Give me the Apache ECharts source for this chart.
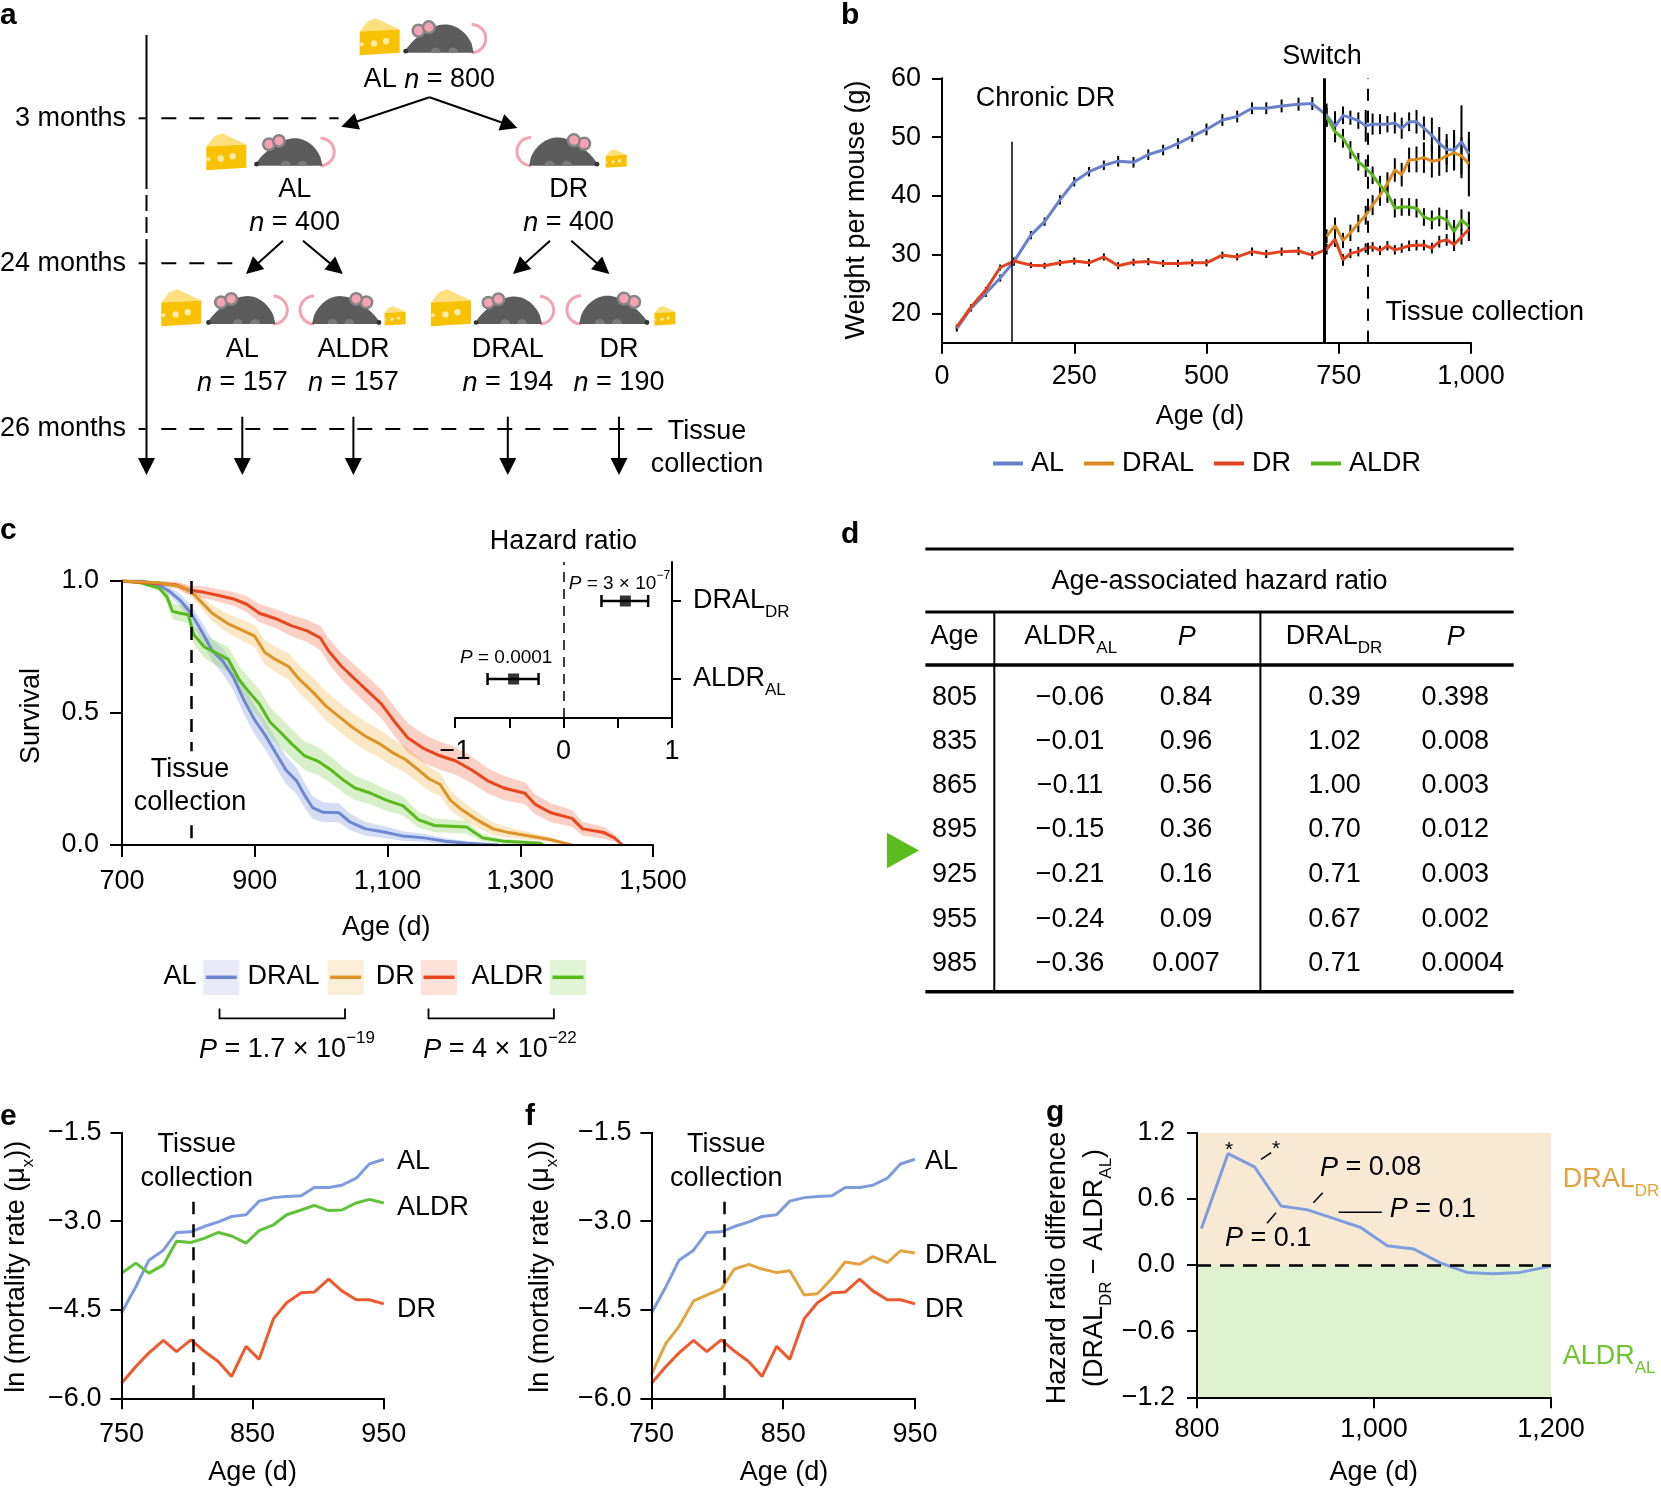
<!DOCTYPE html>
<html>
<head>
<meta charset="utf-8">
<script src="https://cdn.jsdelivr.net/npm/echarts@6/dist/echarts.min.js"></script>
<style>
html, body { margin: 0; padding: 0; background: #fff; }
#chart { width: 1661px; height: 1488px; }
</style>
</head>
<body>
<div id="chart"></div>
<script>
var FONT = '"Liberation Sans", Arial, Helvetica, sans-serif';

// b: body weight per mouse (g)
var weightAgesPre = [28, 55, 83, 110, 136, 168, 194, 223, 250, 278, 306, 333, 362, 390, 418, 446, 473, 500, 530, 558, 586, 613, 642, 674, 700];
var weightAgesPost = [727, 743, 758, 772, 787, 801, 814, 828, 842, 856, 869, 883, 897, 911, 926, 940, 954, 968, 982, 996];
var weightAL = [17.4, 20.9, 23.4, 26.0, 28.8, 33.3, 35.6, 39.3, 42.4, 44.1, 45.2, 45.9, 45.7, 47.0, 47.8, 48.9, 50.1, 51.3, 52.9, 53.5, 54.9, 54.9, 55.3, 55.6, 55.7,
  53.7, 51.8, 53.7, 53.3, 52.8, 51.9, 52.2, 52.2, 52.2, 52.4, 51.5, 52.6, 52.6, 51.5, 50.3, 48.9, 47.9, 47.8, 49.2, 47.1];
var weightDR = [17.7, 21.1, 24.0, 27.8, 28.9, 28.2, 28.1, 28.6, 28.9, 28.6, 29.6, 28.1, 28.7, 28.8, 28.5, 28.5, 28.6, 28.6, 29.9, 29.6, 30.5, 30.1, 30.5, 30.6, 29.9,
  30.9, 32.6, 29.1, 30.2, 30.5, 31.1, 31.3, 30.7, 31.5, 30.8, 31.1, 31.5, 31.6, 31.6, 31.1, 32.2, 32.5, 31.7, 33.0, 34.3];
var weightDRAL = [33.1, 34.9, 32.4, 33.7, 35.3, 36.7, 38.4, 40.1, 42.1, 44.4, 43.6, 46.1, 46.2, 46.5, 45.9, 46.1, 46.8, 47.3, 46.8, 45.4];
var weightALDR = [53.4, 50.9, 49.8, 47.8, 45.8, 44.7, 43.5, 41.8, 40.4, 37.9, 38.1, 38.1, 37.9, 36.4, 35.9, 36.4, 35.9, 33.9, 35.9, 34.8];
var errAL = [0.5, 0.6, 0.6, 0.6, 0.7, 0.7, 0.7, 0.8, 0.8, 0.8, 0.8, 0.9, 0.9, 0.9, 0.9, 0.9, 0.9, 1.0, 1.0, 1.0, 1.0, 1.0, 1.1, 1.1, 1.1,
  2.0, 2.6, 1.5, 1.2, 1.4, 2.7, 1.8, 1.7, 1.4, 1.8, 1.8, 1.6, 2.0, 2.0, 3.0, 2.8, 2.6, 3.4, 6.2, 2.5];
var errDR = [0.4, 0.4, 0.5, 0.5, 0.5, 0.5, 0.5, 0.5, 0.6, 0.6, 0.6, 0.6, 0.6, 0.6, 0.6, 0.6, 0.6, 0.6, 0.6, 0.6, 0.7, 0.7, 0.7, 0.7, 0.7,
  0.9, 1.3, 1.0, 0.8, 0.8, 0.8, 0.8, 0.8, 0.8, 0.8, 0.8, 0.9, 0.9, 0.9, 0.9, 1.0, 1.0, 1.1, 1.3, 1.6];
var errDRAL = [1.2, 1.4, 1.3, 1.4, 1.5, 1.6, 1.7, 1.8, 1.9, 2.0, 2.0, 2.1, 2.2, 2.6, 2.8, 2.7, 2.8, 3.0, 3.2, 5.5];
var errALDR = [1.6, 1.8, 1.6, 1.5, 1.5, 1.5, 1.5, 1.6, 1.6, 1.6, 1.5, 1.5, 1.6, 1.5, 1.6, 1.6, 1.7, 2.0, 1.8, 2.5];
var weightTicks = [20, 30, 40, 50, 60];
var chronicDay = 131, switchDay = 722, tissueDay = 805;

// c: survival
var survAgesAL = [700, 732, 756, 772, 788, 804, 820, 836, 852, 868, 884, 900, 915, 931, 947, 963, 975, 987, 1003, 1027, 1043, 1067, 1099, 1123, 1155, 1187, 1219, 1267];
var survAL = [1.0, 1.0, 0.984, 0.96, 0.926, 0.878, 0.81, 0.736, 0.696, 0.635, 0.547, 0.473, 0.419, 0.351, 0.284, 0.243, 0.189, 0.142, 0.124, 0.122, 0.088, 0.061, 0.047, 0.034, 0.027, 0.014, 0.007, 0.0];
var ciAL = [0, 0.006, 0.012, 0.018, 0.024, 0.03, 0.036, 0.042, 0.048, 0.05, 0.054, 0.054, 0.054, 0.054, 0.053, 0.05, 0.048, 0.043, 0.038, 0.036, 0.031, 0.026, 0.022, 0.018, 0.016, 0.012, 0.008, 0.0];
var survAgesALDR = [700, 728, 756, 768, 776, 788, 800, 808, 824, 840, 860, 876, 891, 907, 923, 939, 955, 975, 995, 1015, 1035, 1051, 1075, 1099, 1123, 1147, 1171, 1219, 1243, 1275, 1330, 1335];
var survALDR = [1.0, 0.993, 0.973, 0.939, 0.885, 0.878, 0.872, 0.797, 0.75, 0.73, 0.703, 0.628, 0.581, 0.534, 0.466, 0.426, 0.385, 0.338, 0.318, 0.284, 0.243, 0.216, 0.196, 0.169, 0.149, 0.095, 0.074, 0.068, 0.027, 0.014, 0.007, 0.0];
var ciALDR = [0, 0.006, 0.012, 0.024, 0.03, 0.03, 0.032, 0.036, 0.042, 0.046, 0.048, 0.052, 0.054, 0.055, 0.056, 0.056, 0.055, 0.054, 0.053, 0.05, 0.048, 0.046, 0.043, 0.04, 0.036, 0.03, 0.026, 0.024, 0.014, 0.01, 0.006, 0.0];
var survAgesDRAL = [700, 756, 788, 804, 820, 836, 860, 884, 900, 915, 931, 951, 967, 987, 1007, 1027, 1047, 1067, 1087, 1107, 1127, 1147, 1163, 1179, 1195, 1211, 1235, 1259, 1283, 1314, 1346, 1378];
var survDRAL = [1.0, 0.993, 0.98, 0.96, 0.919, 0.878, 0.838, 0.81, 0.791, 0.73, 0.703, 0.676, 0.628, 0.581, 0.527, 0.486, 0.446, 0.412, 0.385, 0.351, 0.324, 0.284, 0.25, 0.23, 0.169, 0.135, 0.095, 0.061, 0.047, 0.034, 0.02, 0.0];
var ciDRAL = [0, 0.006, 0.012, 0.018, 0.024, 0.03, 0.036, 0.04, 0.042, 0.046, 0.048, 0.05, 0.053, 0.054, 0.055, 0.055, 0.055, 0.054, 0.053, 0.052, 0.05, 0.048, 0.046, 0.043, 0.038, 0.034, 0.029, 0.024, 0.019, 0.014, 0.01, 0.0];
var survAgesDR = [700, 780, 800, 824, 844, 868, 888, 907, 931, 955, 979, 999, 1011, 1031, 1051, 1071, 1091, 1111, 1131, 1155, 1179, 1203, 1227, 1251, 1275, 1307, 1322, 1346, 1378, 1394, 1426, 1442, 1454];
var survDR = [1.0, 0.986, 0.966, 0.957, 0.946, 0.932, 0.912, 0.878, 0.858, 0.831, 0.811, 0.784, 0.736, 0.676, 0.628, 0.581, 0.534, 0.466, 0.405, 0.365, 0.338, 0.318, 0.284, 0.243, 0.216, 0.196, 0.155, 0.122, 0.101, 0.061, 0.047, 0.027, 0.0];
var ciDR = [0, 0.012, 0.018, 0.022, 0.024, 0.026, 0.03, 0.034, 0.036, 0.04, 0.042, 0.046, 0.048, 0.05, 0.053, 0.054, 0.055, 0.055, 0.055, 0.054, 0.053, 0.052, 0.05, 0.048, 0.046, 0.042, 0.038, 0.036, 0.032, 0.026, 0.022, 0.014, 0.0];

// c inset: hazard ratio
var hrGroups = ['ALDR_AL', 'DRAL_DR'];
var hrEstimate = [-0.46, 0.57];
var hrLower = [-0.70, 0.35];
var hrUpper = [-0.23, 0.78];

// d: age-associated hazard ratio table
var tableAges = ['805', '835', '865', '895', '925', '955', '985'];
var tableALDR = ['\u22120.06', '\u22120.01', '\u22120.11', '\u22120.15', '\u22120.21', '\u22120.24', '\u22120.36'];
var tablePAL = ['0.84', '0.96', '0.56', '0.36', '0.16', '0.09', '0.007'];
var tableDRAL = ['0.39', '1.02', '1.00', '0.70', '0.71', '0.67', '0.71'];
var tablePDR = ['0.398', '0.008', '0.003', '0.012', '0.003', '0.002', '0.0004'];

// e, f: ln mortality rate
var mortAges = [750, 761, 771, 782, 792, 803, 813, 824, 834, 845, 855, 866, 876, 887, 897, 908, 918, 929, 939, 950];
var mortAL = [-4.56, -4.11, -3.66, -3.49, -3.19, -3.18, -3.09, -3.01, -2.92, -2.89, -2.66, -2.60, -2.58, -2.57, -2.43, -2.43, -2.39, -2.27, -2.03, -1.95];
var mortALDR = [-3.88, -3.71, -3.88, -3.74, -3.34, -3.36, -3.29, -3.19, -3.25, -3.37, -3.16, -3.06, -2.89, -2.81, -2.73, -2.82, -2.81, -2.69, -2.63, -2.69];
var mortDR = [-5.75, -5.46, -5.23, -5.02, -5.21, -5.01, -5.20, -5.38, -5.63, -5.12, -5.34, -4.65, -4.38, -4.21, -4.20, -3.98, -4.18, -4.33, -4.33, -4.40];
var mortDRAL = [-5.60, -5.07, -4.78, -4.35, -4.25, -4.15, -3.81, -3.73, -3.81, -3.87, -3.84, -4.25, -4.23, -3.97, -3.69, -3.73, -3.60, -3.70, -3.50, -3.54];
var mortTicksX = [750, 850, 950];

// g: hazard ratio difference
var hrdAges = [805, 835, 865, 895, 925, 955, 985, 1015, 1045, 1075, 1105, 1135, 1165, 1200];
var hrdValues = [0.33, 1.01, 0.89, 0.535, 0.50, 0.42, 0.34, 0.175, 0.145, 0.02, -0.067, -0.08, -0.067, -0.01];

var colB = { al: '#6a80cc', dral: '#d98b22', dr: '#e2421d', aldr: '#5bb51c' };
var colC = { al: '#6f86d1', dral: '#dc9428', dr: '#e8461f', aldr: '#58ba1c' };
var colL = { al: '#7f9bdc', dral: '#e3a440', dr: '#ec5a2e', aldr: '#60c337' };
var colBand = { al: '#8aa2e2', dral: '#f2bd62', dr: '#f5805f', aldr: '#92d56a' };

function fmt(v, dec) {
  var s = Math.abs(v).toFixed(dec).replace(/\B(?=(\d{3})+(?!\d))/g, ',');
  return (v < 0 ? '\u2212' : '') + s;
}
function pairs(xs, ys) { return xs.map(function (x, i) { return [x, ys[i]]; }); }
function bars(xs, ys, es) { return xs.map(function (x, i) { return [x, ys[i] - es[i], ys[i] + es[i]]; }); }

// rich text styles: s = subscript, p = superscript
function richSub(size, color) {
  var ss = Math.round(size * 0.64), L = 2 * (0.37 * size + 0.6 * ss);
  return {
    r: { fontSize: size, fontFamily: FONT, fill: color, color: color, lineHeight: L, verticalAlign: 'middle' },
    i: { fontSize: size, fontFamily: FONT, fill: color, color: color, fontStyle: 'italic', lineHeight: L, verticalAlign: 'middle' },
    s: { fontSize: ss, fontFamily: FONT, fill: color, color: color, lineHeight: ss * 1.2, verticalAlign: 'bottom' }
  };
}
function richSup(size) {
  var ps = Math.round(size * 0.64), L = 2 * (0.38 * size + 0.6 * ps);
  return {
    r: { fontSize: size, fontFamily: FONT, fill: '#000', lineHeight: L, verticalAlign: 'middle' },
    i: { fontSize: size, fontFamily: FONT, fill: '#000', fontStyle: 'italic', lineHeight: L, verticalAlign: 'middle' },
    p: { fontSize: ps, fontFamily: FONT, fill: '#000', lineHeight: ps * 1.2, verticalAlign: 'top' }
  };
}

var G = [];
function txt(x, y, s, o) {
  o = o || {};
  G.push({
    type: 'text', x: x, y: y, rotation: o.rot || 0, z: 100, silent: true,
    style: {
      text: s, fill: o.fill || '#000', fontSize: o.size || 27, fontFamily: FONT,
      fontWeight: o.bold ? 'bold' : 'normal', fontStyle: o.italic ? 'italic' : 'normal',
      textAlign: o.align || 'center', textVerticalAlign: 'middle', align: o.align || 'center', verticalAlign: 'middle',
      rich: o.rich
    }
  });
}
function ln(x1, y1, x2, y2, o) {
  o = o || {};
  G.push({ type: 'line', z: 100, silent: true, shape: { x1: x1, y1: y1, x2: x2, y2: y2 },
    style: { stroke: o.color || '#000', lineWidth: o.w || 2, lineDash: o.dash || null } });
}
function poly(points, fill) {
  G.push({ type: 'polygon', z: 100, silent: true, shape: { points: points }, style: { fill: fill } });
}
function circ(cx, cy, r, fill, stroke, sw) {
  G.push({ type: 'circle', z: 100, silent: true, shape: { cx: cx, cy: cy, r: r },
    style: { fill: fill, stroke: stroke || null, lineWidth: sw || 0 } });
}
function rect(x, y, w, h, fill) {
  G.push({ type: 'rect', z: 99, silent: true, shape: { x: x, y: y, width: w, height: h }, style: { fill: fill } });
}
function arrow(x1, y1, x2, y2) {
  var a = Math.atan2(y2 - y1, x2 - x1), c = Math.cos(a), s = Math.sin(a), hl = 17, hw = 8.5;
  var bx = x2 - hl * c, by = y2 - hl * s;
  ln(x1, y1, bx + 2 * c, by + 2 * s, { w: 2 });
  poly([[x2, y2], [bx - hw * s, by + hw * c], [bx + hw * s, by - hw * c]], '#000');
}
function cheese(x, y, w, h) {
  poly([[x, y + 0.36 * h], [x + 0.2 * w, y + 0.08 * h], [x + 0.4 * w, y], [x + w, y + 0.3 * h]], '#fde07d');
  poly([[x, y + 0.36 * h], [x + w, y + 0.3 * h], [x + w, y + 0.93 * h], [x, y + h]], '#f8c200');
  circ(x + 0.36 * w, y + 0.68 * h, 0.08 * w, '#fde9a8');
  circ(x + 0.66 * w, y + 0.62 * h, 0.08 * w, '#fde9a8');
  circ(x + 0.05 * w, y + 0.7 * h, 0.05 * w, '#fde9a8');
}
function mouse(x, yb, W, dir) {
  var H = 0.41 * W, pts = [];
  function px(u) { return dir < 0 ? x + u * W : x + W - u * W; }
  G.push({ type: 'arc', z: 100, silent: true,
    shape: { cx: px(0.97), cy: yb - 0.5 * H, r: 0.5 * H,
      startAngle: dir < 0 ? -Math.PI / 2 : Math.PI / 2, endAngle: dir < 0 ? Math.PI / 2 : 1.5 * Math.PI, clockwise: true },
    style: { stroke: '#f4a3b3', lineWidth: 3, fill: 'none' } });
  for (var k = 0; k <= 32; k++) {
    var u = k / 32;
    pts.push([px(u), yb - H * Math.pow(Math.sin(Math.PI * Math.pow(u, 1.3)), 0.55)]);
  }
  poly(pts, '#5c5c5c');
  [0.45, 0.7].forEach(function (u) {
    G.push({ type: 'sector', z: 100, silent: true,
      shape: { cx: px(u), cy: yb, r: 0.075 * W, startAngle: Math.PI, endAngle: 2 * Math.PI, clockwise: true },
      style: { fill: '#7a7a7a' } });
  });
  circ(px(0.2), yb - 0.78 * H, 0.085 * W, '#f4a3b3', '#858585', 2.5);
  circ(px(0.35), yb - 0.9 * H, 0.085 * W, '#f4a3b3', '#858585', 2.5);
  circ(px(0.015), yb - 1.5, 0.035 * W, '#333');
}

// panel letters
txt(0, 16, 'a', { bold: true, size: 30, align: 'left' });
txt(841, 16, 'b', { bold: true, size: 30, align: 'left' });
txt(0, 531, 'c', { bold: true, size: 30, align: 'left' });
txt(841, 535, 'd', { bold: true, size: 30, align: 'left' });
txt(0, 1117, 'e', { bold: true, size: 30, align: 'left' });
txt(525, 1117, 'f', { bold: true, size: 30, align: 'left' });
txt(1046, 1113, 'g', { bold: true, size: 30, align: 'left' });

// ---- a: study design ----
var RS = richSub(27, '#000');
ln(146.5, 35, 146.5, 173, { w: 2 });
ln(146.5, 173, 146.5, 245, { w: 2, dash: [16, 6] });
arrow(146.5, 245, 146.5, 475);
[[118.3, '3 months', 338.6], [263.3, '24 months', 235.4], [429, '26 months', 653.3]].forEach(function (t) {
  txt(126, t[0], t[1], { align: 'right' });
  ln(138.6, t[0], 145.5, t[0], { w: 2 });
  ln(161.3, t[0], t[2], t[0], { w: 2, dash: [15, 13] });
});
cheese(359.7, 18.3, 40, 37);
mouse(404.7, 52.7, 69, -1);
txt(429.3, 80, '{r|AL }{i|n}{r| = 800}', { rich: RS });
arrow(429.5, 97.3, 341.2, 126.7);
arrow(429.5, 97.3, 517.4, 128);
cheese(206.3, 133.3, 40, 37);
mouse(255.5, 165.7, 67, -1);
mouse(529, 165.7, 69, 1);
cheese(605.7, 149.3, 21, 18.5);
txt(294.7, 190, 'AL');
txt(294.7, 223, '{i|n}{r| = 400}', { rich: RS });
txt(568.7, 190, 'DR');
txt(568.7, 223, '{i|n}{r| = 400}', { rich: RS });
arrow(283, 240.7, 246, 274);
arrow(303, 240.7, 342.8, 274);
arrow(550, 240.7, 513, 274);
arrow(571.3, 240.7, 609.4, 274);
cheese(161.3, 289.3, 40, 37);
mouse(207.4, 324, 68, -1);
mouse(312, 324, 68, 1);
cheese(384.6, 306, 21, 19.5);
cheese(431, 289.3, 40, 37);
mouse(475, 324, 67, -1);
mouse(579, 324, 69, 1);
cheese(654.4, 306, 21, 19.5);
[[242.3, 'AL', '157'], [353.4, 'ALDR', '157'], [507.8, 'DRAL', '194'], [619, 'DR', '190']].forEach(function (t) {
  txt(t[0], 350, t[1]);
  txt(t[0], 383, '{i|n}{r| = ' + t[2] + '}', { rich: RS });
  arrow(t[0], 416.7, t[0], 475);
});
txt(707, 432, 'Tissue');
txt(707, 465, 'collection');

// ---- b: annotations ----
txt(1045.6, 99, 'Chronic DR');
txt(1322, 57, 'Switch');
txt(1385.5, 313, 'Tissue collection', { align: 'left' });
txt(1200, 417, 'Age (d)');
txt(856.5, 210, 'Weight per mouse (g)', { rot: Math.PI / 2 });

// ---- c: annotations ----
txt(386.2, 928, 'Age (d)');
txt(31.7, 716, 'Survival', { rot: Math.PI / 2 });
txt(190, 770, 'Tissue');
txt(190, 803, 'collection');
txt(563.4, 542, 'Hazard ratio');
txt(568.7, 584, '{i|P}{r| = 3 \u00d7 10}{p|\u22127}', { align: 'left', rich: richSup(19) });
txt(460, 658, '{i|P}{r| = 0.0001}', { align: 'left', rich: richSup(19) });
var legC = [
  ['AL', 180, 203.3, colC.al, '#e8ebf7'],
  ['DRAL', 283.5, 327.7, colC.dral, '#fbeed8'],
  ['DR', 395.3, 421, colC.dr, '#fde2da'],
  ['ALDR', 507.5, 550, colC.aldr, '#e2f4d6']
];
legC.forEach(function (l) {
  txt(l[1], 977, l[0]);
  rect(l[2], 960, 36, 35, l[4]);
  ln(l[2] + 2.5, 977.3, l[2] + 33.5, 977.3, { color: l[3], w: 3.5 });
});
G.push({ type: 'polyline', z: 100, silent: true, shape: { points: [[219.5, 1008.4], [219.5, 1018.4], [345, 1018.4], [345, 1008.4]] }, style: { stroke: '#000', lineWidth: 1.8, fill: 'none' } });
G.push({ type: 'polyline', z: 100, silent: true, shape: { points: [[428.5, 1008.4], [428.5, 1018.4], [553.9, 1018.4], [553.9, 1008.4]] }, style: { stroke: '#000', lineWidth: 1.8, fill: 'none' } });
txt(287, 1050, '{i|P}{r| = 1.7 \u00d7 10}{p|\u221219}', { rich: richSup(27) });
txt(500, 1050, '{i|P}{r| = 4 \u00d7 10}{p|\u221222}', { rich: richSup(27) });

// ---- d: table ----
ln(925.4, 549, 1513.7, 549, { w: 3 });
ln(925.4, 612, 1513.7, 612, { w: 3 });
ln(925.4, 665, 1513.7, 665, { w: 3.5 });
ln(925.4, 991.7, 1513.7, 991.7, { w: 3.5 });
ln(994.3, 612, 994.3, 991.7, { w: 2 });
ln(1260.4, 612, 1260.4, 991.7, { w: 2 });
txt(1219.5, 582, 'Age-associated hazard ratio');
txt(954.5, 637, 'Age');
txt(1070.7, 637, '{r|ALDR}{s|AL}', { rich: RS });
txt(1186.7, 637, 'P', { italic: true });
txt(1334, 637, '{r|DRAL}{s|DR}', { rich: RS });
txt(1455.8, 637, 'P', { italic: true });
var rowY = [697.7, 741.7, 786, 830, 874.3, 919.3, 963.3];
rowY.forEach(function (y, i) {
  txt(954.5, y, tableAges[i]);
  txt(1070, y, tableALDR[i]);
  txt(1186, y, tablePAL[i]);
  txt(1334.6, y, tableDRAL[i]);
  txt(1421.4, y, tablePDR[i], { align: 'left' });
});
poly([[887, 832.7], [919, 850.5], [887, 868.3]], '#5bbd1e');

// ---- e, f: annotations ----
[[16.4, 196.8, 397, 252.6, ['AL', 'ALDR', 'DR']], [541, 726.2, 925, 784, ['AL', 'DRAL', 'DR']]].forEach(function (p) {
  txt(p[0], 1266.7, '{r|ln (mortality rate (\u03bc}{s|x}{r|))}', { rot: Math.PI / 2, rich: RS });
  txt(p[1], 1145, 'Tissue');
  txt(p[1], 1178.3, 'collection');
  txt(p[3], 1473, 'Age (d)');
  txt(p[2], 1161.7, p[4][0], { align: 'left' });
  txt(p[2], p[4][1] === 'ALDR' ? 1207.7 : 1256, p[4][1], { align: 'left' });
  txt(p[2], 1309.3, p[4][2], { align: 'left' });
});

// ---- g: annotations ----
txt(1058, 1268, 'Hazard ratio difference', { rot: Math.PI / 2 });
txt(1094.3, 1268, '{r|(DRAL}{s|DR}{r| \u2212 ALDR}{s|AL}{r|)}', { rot: Math.PI / 2, rich: RS });
txt(1373.7, 1473, 'Age (d)');
txt(1562.7, 1180, '{r|DRAL}{s|DR}', { align: 'left', rich: richSub(27, '#e3a13c') });
txt(1562.7, 1356.7, '{r|ALDR}{s|AL}', { align: 'left', rich: richSub(27, '#6cc52f') });
txt(1229, 1150, '*', { size: 21 });
txt(1276, 1149, '*', { size: 21 });
ln(1261, 1159.3, 1271.2, 1152.7, { w: 1.5 });
txt(1320, 1168, '{i|P}{r| = 0.08}', { align: 'left', rich: RS });
ln(1322.7, 1192.7, 1313.4, 1202.7, { w: 1.5 });
txt(1389.8, 1209.3, '{i|P}{r| = 0.1}', { align: 'left', rich: RS });
ln(1338.7, 1212.3, 1381.8, 1212.3, { w: 1.5 });
txt(1225, 1238.3, '{i|P}{r| = 0.1}', { align: 'left', rich: RS });
ln(1276, 1212.7, 1267, 1223.3, { w: 1.5 });

// ---- axes ----
function axisBase(gi, o) {
  var a = {
    gridIndex: gi, z: 5,
    axisLine: { show: true, onZero: false, lineStyle: { color: '#000', width: 2 } },
    axisTick: { show: true, length: o.tick || 11, lineStyle: { color: '#000', width: 2 } },
    axisLabel: { color: '#000', fontSize: 27, fontFamily: FONT, margin: o.margin || 20 },
    splitLine: { show: false }
  };
  a.type = o.type || 'value';
  ['min', 'max', 'interval', 'data', 'position', 'boundaryGap'].forEach(function (k) { if (o[k] !== undefined) a[k] = o[k]; });
  if (o.fmt) a.axisLabel.formatter = o.fmt;
  if (o.rich) a.axisLabel.rich = o.rich;
  if (o.labels) a.axisLabel.customValues = o.labels;
  if (o.ticks) a.axisTick.customValues = o.ticks;
  if (o.align) a.axisTick.alignWithLabel = true;
  return a;
}
function f0(v) { return fmt(v, 0); }
function f1(v) { return fmt(v, 1); }

var xAxes = [
  axisBase(0, { min: 0, max: 1000, interval: 250, fmt: f0, margin: 20 }),
  axisBase(1, { min: 700, max: 1500, interval: 100, labels: [700, 900, 1100, 1300, 1500], ticks: [700, 900, 1100, 1300, 1500], fmt: f0, margin: 23, tick: 12 }),
  axisBase(2, { min: -1, max: 1, interval: 0.5, labels: [-1, 0, 1], fmt: f0, margin: 20, tick: 10 }),
  axisBase(3, { min: 750, max: 950, interval: 50, labels: mortTicksX, ticks: mortTicksX, fmt: f0, margin: 23 }),
  axisBase(4, { min: 750, max: 950, interval: 50, labels: mortTicksX, ticks: mortTicksX, fmt: f0, margin: 23 }),
  axisBase(5, { min: 800, max: 1200, interval: 200, fmt: f0, margin: 19 })
];
var yAxes = [
  axisBase(0, { min: 15, max: 60, interval: 5, labels: weightTicks, ticks: weightTicks, fmt: f0, margin: 21, tick: 10 }),
  axisBase(1, { min: 0, max: 1, interval: 0.5, fmt: f1, margin: 23, tick: 12 }),
  axisBase(2, { type: 'category', data: hrGroups, position: 'right', boundaryGap: true, align: true, margin: 21, tick: 9,
    fmt: function (v) { var p = v.split('_'); return '{r|' + p[0] + '}{s|' + p[1] + '}'; }, rich: richSub(27, '#000') }),
  axisBase(3, { min: -6, max: -1.5, interval: 1.5, fmt: f1, margin: 20 }),
  axisBase(4, { min: -6, max: -1.5, interval: 1.5, fmt: f1, margin: 20 }),
  axisBase(5, { min: -1.2, max: 1.2, interval: 0.6, fmt: f1, margin: 22, tick: 10 })
];

function lineS(name, gi, data, color, z) {
  return { name: name, type: 'line', xAxisIndex: gi, yAxisIndex: gi, data: data, symbol: 'none', showSymbol: false,
    color: color, lineStyle: { color: color, width: 3 }, z: z || 3, silent: true };
}
function errS(gi, data) {
  return { type: 'custom', xAxisIndex: gi, yAxisIndex: gi, data: data, z: 2, silent: true,
    encode: { x: 0, y: [1, 2] },
    renderItem: function (params, api) {
      var p1 = api.coord([api.value(0), api.value(1)]), p2 = api.coord([api.value(0), api.value(2)]);
      return { type: 'line', shape: { x1: p1[0], y1: p1[1], x2: p2[0], y2: p2[1] }, style: { stroke: '#000', lineWidth: 2 } };
    } };
}
// confidence band drawn as one polygon through the axis scales
function bandS(gi, ages, surv, ci, color) {
  var data = ages.map(function (a, i) { return [a, Math.max(0, surv[i] - ci[i]), Math.min(1, surv[i] + ci[i])]; });
  return { type: 'custom', xAxisIndex: gi, yAxisIndex: gi, data: data, z: 1, silent: true,
    encode: { x: 0, y: [1, 2] },
    renderItem: function (params, api) {
      if (params.dataIndex !== 0) return null;
      var up = [], lo = [];
      data.forEach(function (d) { up.push(api.coord([d[0], d[2]])); lo.push(api.coord([d[0], d[1]])); });
      return { type: 'polygon', shape: { points: up.concat(lo.reverse()) }, style: { fill: color, opacity: 0.36 } };
    } };
}
function vline(x, y1, y2, style) { return [{ coord: [x, y1], lineStyle: style }, { coord: [x, y2] }]; }
var dashStyle = { color: '#000', width: 2.5, type: [13, 10] };

var weightAges = weightAgesPre.concat(weightAgesPost);
var series = [];

// b
var bAL = lineS('AL', 0, pairs(weightAges, weightAL), colB.al, 4);
bAL.markLine = { silent: true, symbol: ['none', 'none'], label: { show: false }, animation: false, data: [
  vline(chronicDay, 15, 49.2, { color: '#000', width: 1.5, type: 'solid' }),
  vline(switchDay, 15, 60, { color: '#000', width: 3, type: 'solid' }),
  vline(tissueDay, 15, 60, { color: '#000', width: 2, type: [12, 10] })
] };
series.push(errS(0, bars(weightAges, weightAL, errAL)));
series.push(errS(0, bars(weightAges, weightDR, errDR)));
series.push(errS(0, bars(weightAgesPost, weightDRAL, errDRAL)));
series.push(errS(0, bars(weightAgesPost, weightALDR, errALDR)));
series.push(bAL);
series.push(lineS('DRAL', 0, pairs(weightAgesPost, weightDRAL), colB.dral, 4));
series.push(lineS('DR', 0, pairs(weightAges, weightDR), colB.dr, 4));
series.push(lineS('ALDR', 0, pairs(weightAgesPost, weightALDR), colB.aldr, 4));

// c
series.push(bandS(1, survAgesAL, survAL, ciAL, colBand.al));
series.push(bandS(1, survAgesALDR, survALDR, ciALDR, colBand.aldr));
series.push(bandS(1, survAgesDRAL, survDRAL, ciDRAL, colBand.dral));
series.push(bandS(1, survAgesDR, survDR, ciDR, colBand.dr));
var cAL = lineS('cAL', 1, pairs(survAgesAL, survAL), colC.al, 3);
cAL.markLine = { silent: true, symbol: ['none', 'none'], label: { show: false }, animation: false, data: [
  vline(tissueDay, 1, 0.355, dashStyle), vline(tissueDay, 0.075, 0, dashStyle)
] };
series.push(cAL);
series.push(lineS('cALDR', 1, pairs(survAgesALDR, survALDR), colC.aldr, 3));
series.push(lineS('cDR', 1, pairs(survAgesDR, survDR), colC.dr, 3));
series.push(lineS('cDRAL', 1, pairs(survAgesDRAL, survDRAL), colC.dral, 3));

// c inset
series.push({ type: 'custom', xAxisIndex: 2, yAxisIndex: 2, z: 6, silent: true,
  data: hrGroups.map(function (g, i) { return [hrLower[i], hrUpper[i], i]; }),
  encode: { x: [0, 1], y: 2 },
  renderItem: function (params, api) {
    var a = api.coord([api.value(0), api.value(2)]), b = api.coord([api.value(1), api.value(2)]), h = 6;
    var st = { stroke: '#000', lineWidth: 2.5 };
    return { type: 'group', children: [
      { type: 'line', shape: { x1: a[0], y1: a[1], x2: b[0], y2: b[1] }, style: st },
      { type: 'line', shape: { x1: a[0], y1: a[1] - h, x2: a[0], y2: a[1] + h }, style: st },
      { type: 'line', shape: { x1: b[0], y1: b[1] - h, x2: b[0], y2: b[1] + h }, style: st }
    ] };
  } });
series.push({ name: 'hr', type: 'scatter', xAxisIndex: 2, yAxisIndex: 2, z: 7, silent: true,
  symbol: 'rect', symbolSize: 11, itemStyle: { color: '#000' },
  data: hrGroups.map(function (g, i) { return [hrEstimate[i], i]; }),
  markLine: { silent: true, symbol: ['none', 'none'], label: { show: false }, animation: false,
    lineStyle: { color: '#000', width: 1.5, type: [10, 7] }, data: [{ xAxis: 0 }] } });

// e
var eAL = lineS('eAL', 3, pairs(mortAges, mortAL), colL.al, 3);
eAL.markLine = { silent: true, symbol: ['none', 'none'], label: { show: false }, animation: false,
  data: [vline(tissueDay, -6, -2.67, dashStyle)] };
series.push(eAL);
series.push(lineS('eALDR', 3, pairs(mortAges, mortALDR), colL.aldr, 3));
series.push(lineS('eDR', 3, pairs(mortAges, mortDR), colL.dr, 3));

// f
var fAL = lineS('fAL', 4, pairs(mortAges, mortAL), colL.al, 3);
fAL.markLine = { silent: true, symbol: ['none', 'none'], label: { show: false }, animation: false,
  data: [vline(tissueDay, -6, -2.67, dashStyle)] };
series.push(fAL);
series.push(lineS('fDRAL', 4, pairs(mortAges, mortDRAL), colL.dral, 3));
series.push(lineS('fDR', 4, pairs(mortAges, mortDR), colL.dr, 3));

// g
var gLine = lineS('gDiff', 5, pairs(hrdAges, hrdValues), '#7f9ddc', 3);
gLine.markArea = { silent: true, data: [
  [{ yAxis: 0, itemStyle: { color: '#f7e9d4' } }, { yAxis: 1.2 }],
  [{ yAxis: -1.2, itemStyle: { color: '#def2cf' } }, { yAxis: 0 }]
] };
gLine.markLine = { silent: true, symbol: ['none', 'none'], label: { show: false }, animation: false,
  lineStyle: { color: '#000', width: 2.5, type: [14, 9] }, data: [{ yAxis: 0 }] };
series.push(gLine);

var chart = echarts.init(document.getElementById('chart'), null, { renderer: 'canvas' });
chart.setOption({
  animation: false,
  backgroundColor: '#fff',
  textStyle: { fontFamily: FONT },
  grid: [
    { left: 942, top: 78.3, width: 529, height: 264.4, outerBoundsMode: 'none' },
    { left: 122, top: 581, width: 531, height: 264, outerBoundsMode: 'none' },
    { left: 455, top: 562, width: 217, height: 156, outerBoundsMode: 'none' },
    { left: 121.4, top: 1132.7, width: 262.4, height: 265.6, outerBoundsMode: 'none' },
    { left: 651.4, top: 1132.7, width: 263.6, height: 265.6, outerBoundsMode: 'none' },
    { left: 1197, top: 1132.7, width: 354, height: 264.6, outerBoundsMode: 'none' }
  ],
  xAxis: xAxes,
  yAxis: yAxes,
  legend: {
    data: ['AL', 'DRAL', 'DR', 'ALDR'], left: 993, top: 450, padding: 0,
    icon: 'rect', itemWidth: 30, itemHeight: 4, itemGap: 20, selectedMode: false,
    textStyle: { fontSize: 27, fontFamily: FONT, color: '#000', padding: [0, 0, 0, 3] }
  },
  series: series,
  graphic: G
});
</script>
</body>
</html>
